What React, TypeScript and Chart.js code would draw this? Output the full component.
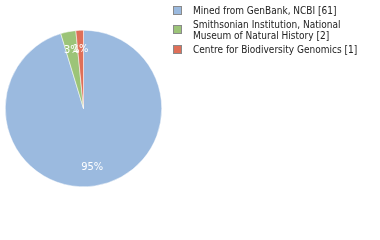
import React, { useEffect, useRef } from "react";
import { Chart, registerables } from "chart.js";

Chart.register(...registerables);

const categories = [
  "Mined from GenBank, NCBI [61]",
  "Smithsonian Institution, National Museum of Natural History [2]",
  "Centre for Biodiversity Genomics [1]",
];
const legendLines = [
  ["Mined from GenBank, NCBI [61]"],
  ["Smithsonian Institution, National", "Museum of Natural History [2]"],
  ["Centre for Biodiversity Genomics [1]"],
];
const values = [61, 2, 1];
const percentLabels = ["95%", "3%", "1%"];
const colors = ["#9bbadf", "#9cc478", "#df6f58"];

const LEGEND_FONT = "10px 'DejaVu Sans Condensed', 'DejaVu Sans'";
const LABEL_FONT = "11px 'DejaVu Sans Condensed', 'DejaVu Sans'";

const pieLabels = {
  id: "pieLabels",
  afterDatasetsDraw(chart: any) {
    const ctx = chart.ctx;
    const meta = chart.getDatasetMeta(0);
    ctx.save();
    ctx.font = LABEL_FONT;
    ctx.fillStyle = "#ffffff";
    ctx.textAlign = "center";
    ctx.textBaseline = "middle";
    meta.data.forEach((arc: any, i: number) => {
      const p = arc.getProps(["x", "y", "startAngle", "endAngle", "outerRadius"], true);
      const mid = (p.startAngle + p.endAngle) / 2;
      const r = p.outerRadius * 0.76;
      ctx.fillText(percentLabels[i], p.x + Math.cos(mid) * r, p.y + Math.sin(mid) * r);
    });
    ctx.restore();
  },
};

const legendPlugin = {
  id: "customLegend",
  afterDraw(chart: any) {
    const ctx = chart.ctx;
    ctx.save();
    ctx.font = LEGEND_FONT;
    ctx.textBaseline = "alphabetic";
    ctx.textAlign = "left";
    let y = 14;
    legendLines.forEach((lines, i) => {
      const mid = y + ((lines.length - 1) * 11) / 2 - 4;
      const boxTop = Math.round(mid - 3.5);
      ctx.fillStyle = colors[i];
      ctx.fillRect(174, boxTop, 7, 7);
      ctx.strokeStyle = "#8a8a8a";
      ctx.lineWidth = 1;
      ctx.strokeRect(173.5, boxTop - 0.5, 8, 8);
      ctx.fillStyle = "#222222";
      lines.forEach((ln, j) => {
        ctx.fillText(ln, 193, y + j * 11);
      });
      y += (lines.length - 1) * 11 + 14;
    });
    ctx.restore();
  },
};

export default function App() {
  const ref = useRef<HTMLCanvasElement>(null);
  useEffect(() => {
    if (!ref.current) return;
    const chart = new Chart(ref.current, {
      type: "pie",
      data: {
        labels: categories,
        datasets: [
          {
            data: values,
            backgroundColor: colors,
            borderColor: "#ffffff",
            borderWidth: 0.5,
          },
        ],
      },
      options: {
        responsive: false,
        animation: false,
        layout: { padding: { left: 5, top: 30, right: 218, bottom: 53 } },
        plugins: { legend: { display: false }, tooltip: { enabled: false } },
      },
      plugins: [pieLabels, legendPlugin],
    });
    return () => chart.destroy();
  }, []);
  return (
    <div style={{ position: "fixed", left: 0, top: 0, width: 380, height: 240, background: "#fff" }}>
      <canvas ref={ref} width={380} height={240} style={{ width: 380, height: 240 }} />
    </div>
  );
}
